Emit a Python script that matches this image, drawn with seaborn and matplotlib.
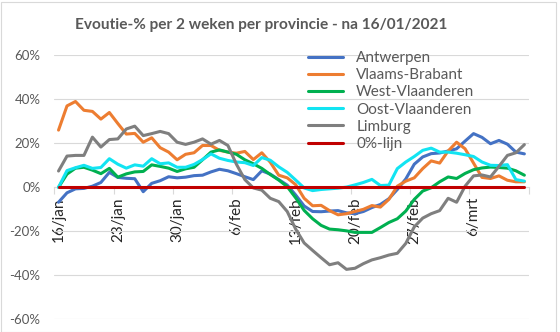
import numpy as np
import pandas as pd
import matplotlib
matplotlib.use("Agg")
import matplotlib.pyplot as plt
import seaborn as sns
from matplotlib.patches import Rectangle

sns.set_theme(style="white")
plt.rcParams['font.family'] = ['Lato', 'DejaVu Sans']

# ---- data -------------------------------------------------------------
dates = pd.date_range("2021-01-16", "2021-03-12", freq="D")
tick_labels = ["16/jan", "23/jan", "30/jan", "6/feb", "13/feb", "20/feb", "27/feb", "6/mrt"]

antwerpen = [-6.8, -2.5, -0.7, -0.5, 0.5, 2.2, 6.8, 4.5, 4.1, 3.9, -2.0, 1.8, 3.0, 4.8,
             4.3, 4.6, 5.3, 5.5, 7.0, 8.2, 7.5, 6.2, 4.8, 3.5, 7.5, 6.0, 3.5, 1.0,
             -3.5, -8.5, -11.0, -11.1, -10.8, -10.6, -11.6, -12.0, -11.0, -9.2, -7.8, -5.2, -1.0, 3.8,
             10.5, 13.8, 15.3, 15.6, 16.5, 17.5, 21.0, 24.4, 22.7, 19.8, 21.3, 19.6, 16.0, 15.2]
vlaams_brabant = [26.0, 37.0, 39.0, 35.0, 34.5, 31.0, 34.0, 29.0, 24.2, 24.5, 20.5, 22.5, 18.0, 16.0,
                  12.5, 15.0, 15.7, 19.0, 19.0, 16.8, 16.0, 15.5, 16.3, 12.6, 15.7, 11.4, 5.5, 4.3,
                  1.2, -5.0, -8.4, -8.2, -10.6, -12.5, -12.0, -11.0, -10.0, -8.3, -9.0, -5.5, 0.5, 2.8,
                  4.3, 8.5, 12.0, 11.0, 16.5, 20.5, 17.5, 11.0, 4.5, 4.0, 5.2, 3.2, 2.5, 2.5]
west_vlaanderen = [0.0, 6.0, 8.7, 9.1, 7.8, 6.2, 8.6, 4.6, 6.1, 7.0, 7.2, 10.2, 9.5, 8.7,
                   7.2, 8.4, 9.1, 12.5, 16.0, 17.0, 16.0, 15.0, 12.5, 10.7, 8.6, 5.8, 3.3, 0.3,
                   -4.8, -10.5, -14.3, -17.3, -19.0, -19.3, -19.8, -20.5, -20.5, -20.5, -18.3, -16.0, -14.3, -10.8,
                   -5.5, -1.7, -0.2, 2.5, 4.7, 4.0, 6.3, 8.0, 8.8, 9.2, 9.0, 8.7, 7.5, 5.5]
oost_vlaanderen = [0.0, 7.6, 8.9, 10.0, 8.6, 9.0, 13.0, 10.5, 8.7, 10.2, 9.6, 13.0, 10.7, 11.1,
                   9.1, 9.1, 10.4, 12.6, 15.2, 13.2, 12.2, 11.5, 11.2, 9.9, 13.5, 12.3, 9.3, 6.8,
                   3.3, -0.3, -1.5, -1.0, -0.7, -0.4, 0.1, 1.1, 2.2, 3.6, 0.8, 1.0, 8.5, 11.5,
                   14.0, 16.8, 17.8, 16.0, 16.0, 15.5, 14.8, 14.0, 11.5, 10.0, 9.9, 10.3, 3.5, 2.8]
limburg = [7.4, 14.2, 14.5, 14.5, 22.8, 18.3, 21.7, 22.0, 26.5, 27.8, 23.5, 24.4, 25.4, 24.4,
           20.5, 19.5, 20.5, 22.0, 19.6, 21.3, 19.0, 10.5, 3.5, -0.3, -1.3, -5.0, -6.5, -11.0,
           -19.0, -25.3, -28.7, -32.0, -35.2, -34.3, -37.3, -36.8, -34.7, -33.0, -32.0, -30.8, -30.0, -25.5,
           -18.0, -14.0, -12.0, -10.6, -5.0, -6.8, 0.5, 5.2, 5.6, 4.7, 9.5, 14.5, 15.7, 19.4]
nul_lijn = [0.0] * 56

series = {
    "Antwerpen": antwerpen,
    "Vlaams-Brabant": vlaams_brabant,
    "West-Vlaanderen": west_vlaanderen,
    "Oost-Vlaanderen": oost_vlaanderen,
    "Limburg": limburg,
    "0%-lijn": nul_lijn,
}
colors = {
    "Antwerpen": "#4472C4",
    "Vlaams-Brabant": "#ED7D31",
    "West-Vlaanderen": "#00B050",
    "Oost-Vlaanderen": "#12E4F2",
    "Limburg": "#7F7F7F",
    "0%-lijn": "#C00000",
}
order = list(series.keys())

rows = []
for name, vals in series.items():
    for i, v in enumerate(vals):
        rows.append({"dag": i, "datum": dates[i], "provincie": name, "waarde": v})
df = pd.DataFrame(rows)

# ---- figure -----------------------------------------------------------
W, H = 560, 332
fig = plt.figure(figsize=(W / 100, H / 100), dpi=100)
fig.patch.set_facecolor("white")
x0, x1 = 54.3, 528.6
y_top, y_bot = 55.3, 319.3
ax = fig.add_axes([x0 / W, 1 - y_bot / H, (x1 - x0) / W, (y_bot - y_top) / H])

sns.lineplot(data=df, x="dag", y="waarde", hue="provincie", hue_order=order,
             palette=colors, linewidth=2.2, sort=False, legend=False, ax=ax,
             solid_joinstyle="round", zorder=3)

grey_txt = "#595959"
ax.set_xlim(-0.5, 55.5)
ax.set_ylim(-60, 60)
yt = list(range(-60, 61, 20))
ax.set_yticks(yt)
ax.set_yticklabels([f"{v}%" for v in yt], fontsize=9.5, color=grey_txt)
ax.tick_params(axis="y", length=0, pad=10)

ax.set_xticks(range(0, 56, 7))
ax.set_xticklabels(tick_labels, fontsize=9.5, color=grey_txt)
ax.set_xticks(np.arange(-0.5, 56, 7), minor=True)
ax.tick_params(axis="x", which="major", length=0, pad=7, labelrotation=90)
ax.tick_params(axis="x", which="minor", length=5, width=0.8, color="#d9d9d9",
               direction="out", bottom=True)

ax.set_xlabel("")
ax.set_ylabel("")
ax.yaxis.grid(True, color="#d9d9d9", linewidth=0.8)
ax.xaxis.grid(False)
ax.set_axisbelow(True)
for s in ["left", "top", "right"]:
    ax.spines[s].set_visible(False)
ax.spines["bottom"].set_position(("data", 0))
ax.spines["bottom"].set_color("#d9d9d9")
ax.spines["bottom"].set_linewidth(0.8)
ax.spines["bottom"].set_zorder(1)

handles = ax.get_lines()[:len(order)]
leg = ax.legend(handles=handles, labels=order, loc="upper left",
                bbox_to_anchor=(308 / W, 1 - 51 / H), bbox_transform=fig.transFigure,
                frameon=False, fontsize=11, handlelength=2.3, handletextpad=0.85,
                labelspacing=0.21, borderpad=0, borderaxespad=0)
for t in leg.get_texts():
    t.set_color(grey_txt)

fig.text(261 / W, 1 - 29.5 / H, "Evoutie-% per 2 weken per provincie - na 16/01/2021",
         ha="center", va="baseline", fontsize=11.1, fontweight="bold", color=grey_txt)

fig.patches.append(Rectangle((0.5 / W, 0.5 / H), 555 / W, 329.5 / H,
                             transform=fig.transFigure, fill=False,
                             edgecolor="#d9d9d9", linewidth=0.8))

fig.savefig("out.png", dpi=100)
